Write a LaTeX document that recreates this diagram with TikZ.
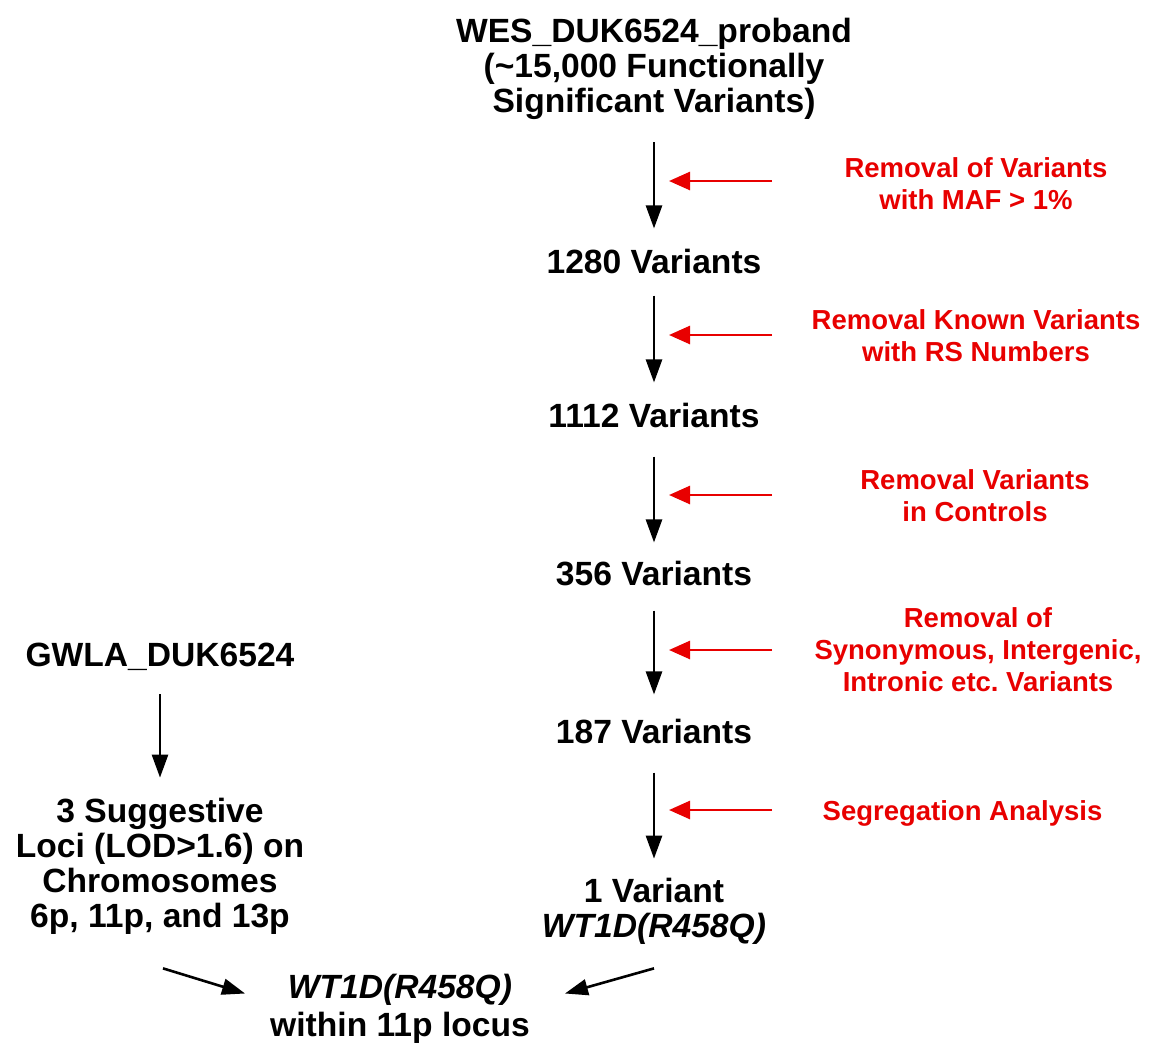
\documentclass[tikz,border=0pt]{standalone}
\usepackage{fontspec}
\setmainfont{Liberation Sans}
\usetikzlibrary{calc,arrows.meta}
\definecolor{redc}{RGB}{232,0,0}
\begin{document}
\begin{tikzpicture}[x=1pt,y=-1pt,
  blk/.style={font=\fontsize{33.6}{35}\selectfont\bfseries, align=center, inner sep=0pt},
  redtxt/.style={font=\fontsize{27.5}{32}\selectfont\bfseries, text=redc, align=center, inner sep=0pt},
  barr/.style={-{Triangle[length=23pt,width=16pt]}, line width=2.6pt, black},
  rarr/.style={-{Triangle[length=21pt,width=18pt]}, line width=2.6pt, redc},
]
\useasboundingbox[fill=white] (0,0) rectangle (1149,1053);

% main column
\node[blk] (title) at (654,68.5) {WES\_DUK6524\_proband\\(\textasciitilde15,000 Functionally\\Significant Variants)};
\node[blk, anchor=base] (v1280) at (654,273) {1280 Variants};
\node[blk, anchor=base] (v1112) at (654,427) {1112 Variants};
\node[blk, anchor=base] (v356) at (654,585) {356 Variants};
\node[blk, anchor=base] (v187) at (654,743) {187 Variants};
\node[blk] (v1) at (654,911) {1 Variant\\\textit{WT1D(R458Q)}};

% left column
\node[blk, anchor=base] (gwla) at (160,666) {GWLA\_DUK6524};
\node[blk] (loci) at (160,866) {3 Suggestive\\Loci (LOD>1.6) on\\Chromosomes\\6p, 11p, and 13p};

% final
\node[blk, font=\fontsize{33.6}{38}\selectfont\bfseries] (final) at (400,1008.5) {\textit{WT1D(R458Q)}\\within 11p locus};

% red notes
\node[redtxt] (r1) at (976,184) {Removal of Variants\\with MAF > 1\%};
\node[redtxt] (r2) at (976,336) {Removal Known Variants\\with RS Numbers};
\node[redtxt] (r3) at (975,496) {Removal Variants\\in Controls};
\node[redtxt] (r4) at (978,650) {Removal of\\Synonymous, Intergenic,\\Intronic etc.\ Variants};
\node[redtxt, anchor=base] (r5) at (962.5,820) {Segregation Analysis};

% main arrows
\draw[barr, shorten <=23pt, shorten >=20pt] (title.south) -- (v1280.north);
\draw[barr, shorten <=22pt, shorten >=20pt] (v1280.south) -- (v1112.north);
\draw[barr, shorten <=29pt, shorten >=18pt] (v1112.south) -- (v356.north);
\draw[barr, shorten <=25pt, shorten >=24pt] (v356.south) -- (v187.north);
\draw[barr, shorten <=29pt, shorten >=19pt] (v187.south) -- (v1.north);
\draw[barr, shorten <=24pt, shorten >=20pt] (gwla.south) -- (loci.north);

% red arrows
\coordinate (s1) at (772,181); \coordinate (e1) at (669,181);
\coordinate (s2) at (772,335); \coordinate (e2) at (669,335);
\coordinate (s3) at (772,495); \coordinate (e3) at (669,495);
\coordinate (s4) at (772,650); \coordinate (e4) at (669,650);
\coordinate (s5) at (772,810); \coordinate (e5) at (669,810);
\foreach \i in {1,...,5} {\draw[rarr] (s\i) -- (e\i);}

% converging arrows
\draw[barr] ($(loci.south)+(3,34)$) -- ($(final.west)+(-25,-15)$);
\draw[barr] ($(v1.south)+(0,24)$) -- ($(final.east)+(35,-15)$);
\end{tikzpicture}
\end{document}
